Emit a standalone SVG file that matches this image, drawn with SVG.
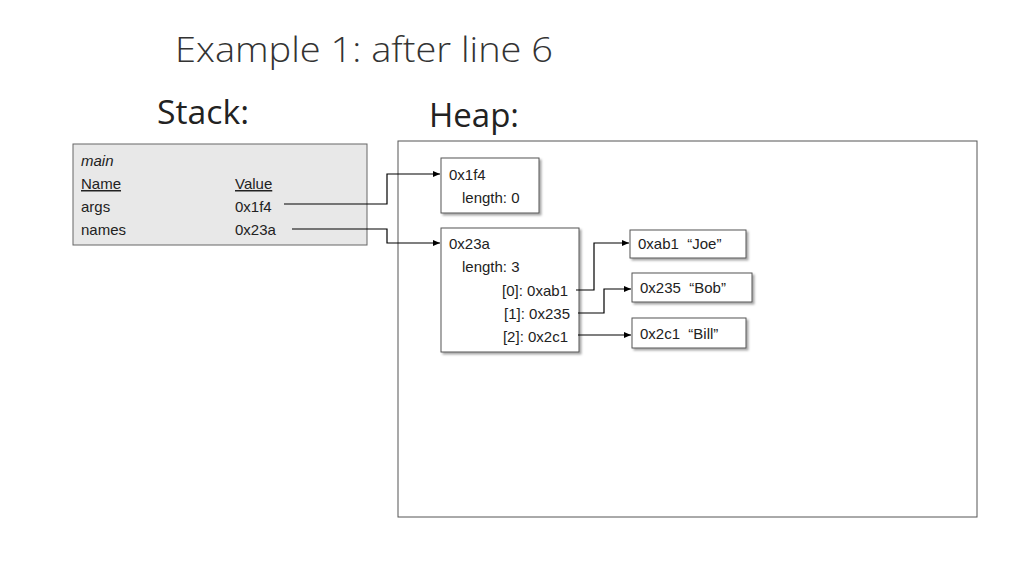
<svg xmlns="http://www.w3.org/2000/svg" width="1024" height="576" viewBox="0 0 1024 576">
<defs>
<marker id="ah" markerWidth="8" markerHeight="8" refX="7" refY="4" orient="auto" markerUnits="userSpaceOnUse"><path d="M0,1 L7,4 L0,7 Z" fill="#000"/></marker>
<filter id="sh" x="-10%" y="-10%" width="130%" height="130%"><feDropShadow dx="2" dy="2" stdDeviation="1.2" flood-color="#000" flood-opacity="0.35"/></filter>
</defs>
<style>
text{font-family:"Liberation Sans",Arial,sans-serif;fill:#222;white-space:pre}
.t{font-size:15px}
.h{font-size:35px;fill:#333;font-family:"Open Sans","Liberation Sans",sans-serif;font-weight:300}
.s{font-size:33px;fill:#222;font-family:"Open Sans","Liberation Sans",sans-serif}
.b{fill:#fff;stroke:#555;stroke-width:1;filter:url(#sh)}
.c{fill:none;stroke:#000;stroke-width:1.2}
</style>
<rect width="1024" height="576" fill="#fff"/>
<text class="h" x="175" y="62" textLength="378" lengthAdjust="spacingAndGlyphs">Example 1: after line 6</text>
<text class="s" x="157" y="124" textLength="92" lengthAdjust="spacingAndGlyphs">Stack:</text>
<text class="s" x="429" y="127" textLength="90" lengthAdjust="spacingAndGlyphs">Heap:</text>
<g id="stack">
<rect x="73" y="144" width="294" height="101" fill="#e8e8e8" stroke="#666"/>
<text class="t" x="81" y="166" font-style="italic">main</text>
<text class="t" x="81" y="189" text-decoration="underline">Name</text>
<text class="t" x="235" y="189" text-decoration="underline">Value</text>
<text class="t" x="81" y="212">args</text>
<text class="t" x="235" y="212">0x1f4</text>
<text class="t" x="81" y="235">names</text>
<text class="t" x="235" y="235">0x23a</text>
</g>
<g id="heap"><rect x="398" y="141" width="579" height="376" fill="#fff" stroke="#555"/></g>
<g id="n1f4"><rect class="b" x="441" y="158" width="98" height="55"/>
<text class="t" x="449" y="180">0x1f4</text><text class="t" x="462" y="203">length: 0</text></g>
<g id="n23a"><rect class="b" x="441" y="228" width="138" height="124"/>
<text class="t" x="449" y="249">0x23a</text><text class="t" x="462" y="272">length: 3</text>
<text class="t" x="568" y="296" text-anchor="end">[0]: 0xab1</text>
<text class="t" x="570" y="319" text-anchor="end">[1]: 0x235</text>
<text class="t" x="568" y="342" text-anchor="end">[2]: 0x2c1</text></g>
<g id="nab1"><rect class="b" x="630" y="230" width="116" height="28"/><text class="t" x="638" y="249">0xab1  “Joe”</text></g>
<g id="n235"><rect class="b" x="632" y="273" width="120" height="29"/><text class="t" x="640" y="293">0x235  “Bob”</text></g>
<g id="n2c1"><rect class="b" x="632" y="318" width="114" height="30"/><text class="t" x="640" y="339">0x2c1  “Bill”</text></g>
<g id="connectors">
<path class="c" d="M284,204 H387 V174 H440" marker-end="url(#ah)"/>
<path class="c" d="M292,229 H387 V243 H440" marker-end="url(#ah)"/>
<path class="c" d="M576,290 H594 V243 H629" marker-end="url(#ah)"/>
<path class="c" d="M578,313 H604 V289 H631" marker-end="url(#ah)"/>
<path class="c" d="M578,335 H631" marker-end="url(#ah)"/>
</g>
</svg>
